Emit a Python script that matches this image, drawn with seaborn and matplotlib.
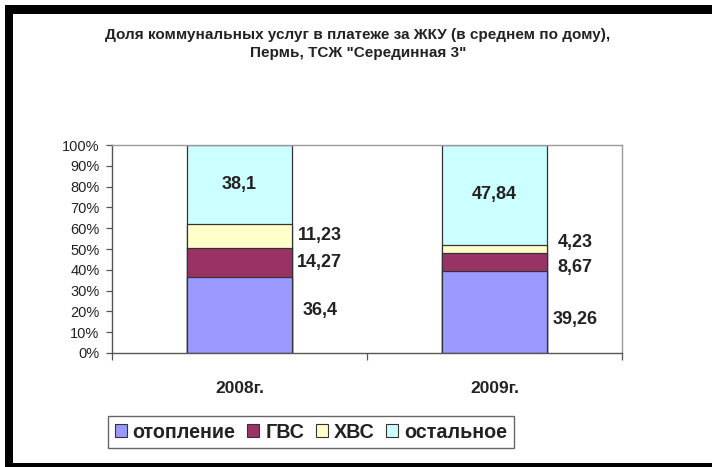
import matplotlib
matplotlib.use("Agg")
import matplotlib.pyplot as plt
from matplotlib.patches import Patch, Rectangle
from matplotlib.ticker import FixedLocator, PercentFormatter
import numpy as np
import pandas as pd
import seaborn as sns

# Data: share of utility services in the housing payment, %
years = ["2008г.", "2009г."]
series_names = ["отопление", "ГВС", "ХВС", "остальное"]
heating = [36.4, 39.26]
hot_water = [14.27, 8.67]
cold_water = [11.23, 4.23]
other = [38.1, 47.84]
title_lines = ["Доля коммунальных услуг в платеже за ЖКУ (в среднем по дому),",
               "Пермь, ТСЖ \"Серединная 3\""]

colors = ["#9999FF", "#993366", "#FFFFCC", "#CCFFFF"]

sns.set_theme(style="white")
plt.rcParams["font.family"] = ["Liberation Sans", "DejaVu Sans"]

W, H = 712, 467
fig = plt.figure(figsize=(W / 100, H / 100), dpi=100)
fig.patch.set_facecolor("white")

def px_rect(x0, y0, x1, y1, **kw):
    """Rectangle given in pixel coords with origin at top-left."""
    fig.patches.append(Rectangle((x0 / W, 1 - y1 / H), (x1 - x0) / W, (y1 - y0) / H,
                                 transform=fig.transFigure, **kw))

# frame of the chart window (top, left and bottom dark bands)
px_rect(5, 5, W, 14, facecolor="black", edgecolor="none")
px_rect(5, 5, 13, H, facecolor="black", edgecolor="none")
px_rect(5, 463, W, H, facecolor="black", edgecolor="none")

ax = fig.add_axes([112 / W, 1 - 353 / H, (622 - 112) / W, (353 - 145) / H])

df = pd.DataFrame({"year": years, "отопление": heating, "ГВС": hot_water,
                   "ХВС": cold_water, "остальное": other})
cum = df[series_names].cumsum(axis=1)

bar_w = 0.41
# stacked bars drawn as overlapping cumulative totals, tallest first
for name, col in reversed(list(zip(series_names, colors))):
    sns.barplot(data=cum.assign(year=years), x="year", y=name, color=col,
                width=bar_w, edgecolor="#333333", linewidth=0.9,
                saturation=1, ax=ax, zorder=2)

ax.set_xlabel("")
ax.set_ylabel("")
ax.set_xlim(-0.5, 1.5)
ax.set_ylim(0, 100)

ax.yaxis.set_major_locator(FixedLocator(np.arange(0, 101, 10)))
ax.yaxis.set_major_formatter(PercentFormatter(decimals=0))
ax.tick_params(axis="y", which="major", direction="out", length=4, width=0.9,
               color="#555555", labelsize=10.5, labelcolor="#222222", pad=5,
               left=True)
ax.tick_params(axis="x", which="major", length=0, labelsize=12.5, pad=20,
               labelcolor="#222222")
for lbl in ax.get_xticklabels():
    lbl.set_fontweight("bold")
ax.xaxis.set_minor_locator(FixedLocator([-0.5, 0.5, 1.5]))
ax.tick_params(axis="x", which="minor", direction="out", length=5, width=0.9,
               color="#555555", bottom=True)

for side in ["top", "right"]:
    ax.spines[side].set_color("#9a9a9a")
    ax.spines[side].set_linewidth(1)
for side in ["left", "bottom"]:
    ax.spines[side].set_color("#555555")
    ax.spines[side].set_linewidth(1)

# value labels: top segment inside the bar, the rest beside the bar
nudge = {(0, 0): 5, (1, 0): -7, (1, 1): -5, (1, 2): 6}
for i in range(len(years)):
    vals = [df.loc[i, n] for n in series_names]
    base = 0.0
    for j, v in enumerate(vals):
        mid = base + v / 2
        txt = f"{v:g}".replace(".", ",")
        if j == len(vals) - 1:
            ax.text(i, mid, txt, ha="center", va="center", fontsize=13,
                    fontweight="bold", color="#222222", zorder=5)
        else:
            ax.annotate(txt, xy=(i + bar_w / 2, mid), xytext=(28, nudge.get((i, j), 0)),
                        textcoords="offset pixels", ha="center", va="center",
                        fontsize=13, fontweight="bold", color="#222222", zorder=5)
        base += v

fig.text(358 / W, 1 - 35 / H, title_lines[0], ha="center", va="center",
         fontsize=11, fontweight="bold", color="#222222")
fig.text(358 / W, 1 - 53 / H, title_lines[1], ha="center", va="center",
         fontsize=11, fontweight="bold", color="#222222")

handles = [Patch(facecolor=c, edgecolor="#333333", linewidth=0.8) for c in colors]
leg = fig.legend(handles, series_names, loc="center", ncol=4,
                 bbox_to_anchor=(311 / W, 1 - 432 / H), frameon=True, fancybox=False,
                 framealpha=1, edgecolor="#666666", handlelength=0.6, handleheight=0.6,
                 handletextpad=0.3, columnspacing=0.6, borderpad=0.35,
                 prop={"size": 14.2, "weight": "bold"})
for t in leg.get_texts():
    t.set_color("#222222")

fig.savefig("out.png", dpi=100, facecolor="white")
